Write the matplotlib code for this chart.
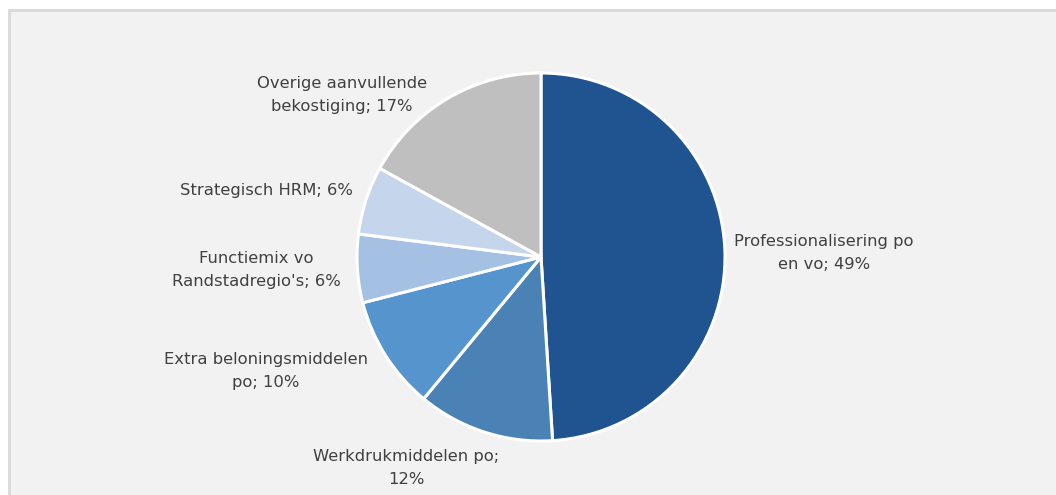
import matplotlib
matplotlib.use("Agg")
import matplotlib.pyplot as plt
from matplotlib.patches import Rectangle

# data
labels = [
    "Professionalisering po\nen vo; 49%",
    "Werkdrukmiddelen po;\n12%",
    "Extra beloningsmiddelen\npo; 10%",
    "Functiemix vo\nRandstadregio's; 6%",
    "Strategisch HRM; 6%",
    "Overige aanvullende\nbekostiging; 17%",
]
values = [49, 12, 10, 6, 6, 17]
colors = ["#1F5490", "#4B82B6", "#5594CC", "#A4C0E3", "#C5D5EB", "#BFBFBF"]

# label centres in pixels (x, y from top)
label_px = [(824, 253), (406, 468), (266, 371), (256, 270), (266, 190), (342, 95)]

W, H = 1056, 495
cx, cy, r = 541, 257, 184

fig = plt.figure(figsize=(W / 100, H / 100), dpi=100, facecolor="white")

# chart area background
fig.patches.append(Rectangle((9 / W, -0.1), 1.2, 1 - 10 / H + 0.1,
                             transform=fig.transFigure, facecolor="#F2F2F2",
                             edgecolor="#D9D9D9", linewidth=2, zorder=-10))

ax = fig.add_axes([0, 0, 1, 1])
ax.set_facecolor("none")
ax.pie(values, colors=colors, startangle=90, counterclock=False, radius=1,
       wedgeprops=dict(edgecolor="white", linewidth=2.2))
ax.set_xlim(-cx / r, (W - cx) / r)
ax.set_ylim(-(H - cy) / r, cy / r)
ax.set_aspect("equal")
ax.axis("off")

for text, (px, py) in zip(labels, label_px):
    ax.text((px - cx) / r, (cy - py) / r, text, ha="center", va="center",
            fontsize=11.8, color="#404040", linespacing=1.62)

fig.savefig("out.png", dpi=100, facecolor="white")
